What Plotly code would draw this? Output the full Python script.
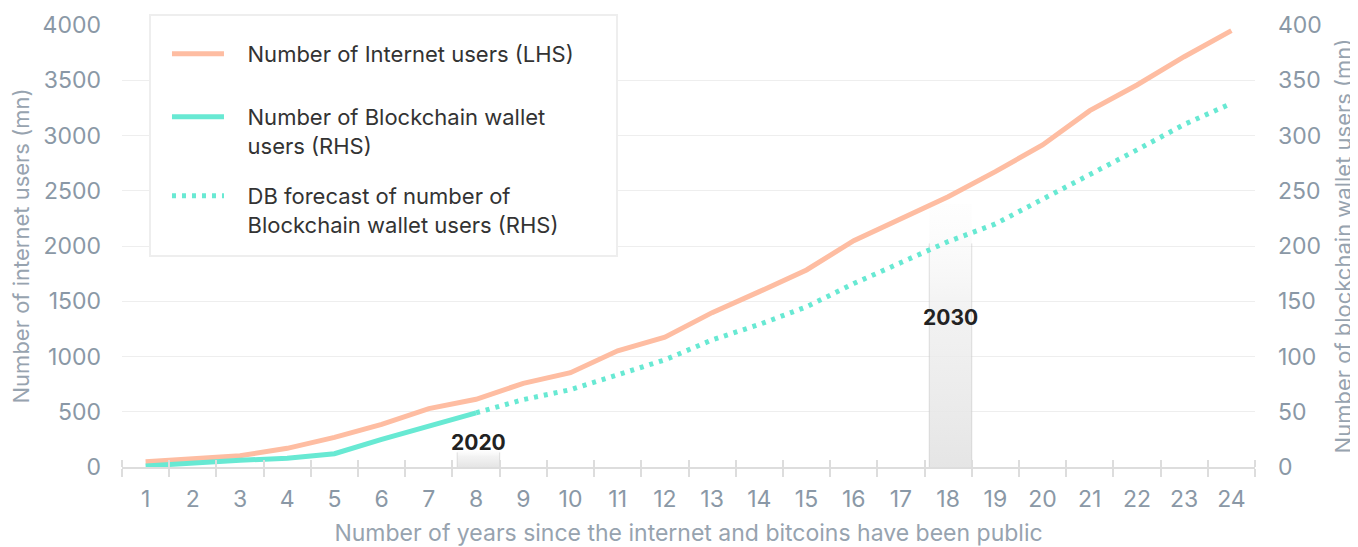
import plotly.graph_objects as go

years = list(range(1, 25))
internet_users = [48, 79, 102, 169, 268, 386, 528, 613, 757, 853, 1052, 1174,
                  1397, 1587, 1783, 2048, 2245, 2446, 2673, 2914, 3225, 3457, 3713, 3949]
wallet_years = list(range(1, 9))
wallet_users = [1, 4, 6, 8, 12, 25, 37, 49]
forecast_years = list(range(8, 25))
forecast_users = [49, 61, 70, 84, 97, 115, 129, 145, 166, 185, 204, 220, 242, 264, 287, 310, 329]

highlight_labels = ["2020", "2030"]
highlight_x0 = [7.6, 17.6]
highlight_x1 = [8.5, 18.5]
highlight_top = [155, 2380]
label_y = [226, 1357]

ORANGE = "#FEBDA2"
TEAL = "#68E9D3"
TICK = "#8A98A6"
TITLE = "#97A3AF"
FONT = "Inter"
NB = "&nbsp;&nbsp;&nbsp;"

fig = go.Figure()

for x0, x1, top in zip(highlight_x0, highlight_x1, highlight_top):
    fig.add_trace(go.Scatter(
        x=[x0, x1, x1, x0, x0], y=[0, 0, top, top, 0],
        fill="toself", mode="lines", line=dict(width=0),
        fillgradient=dict(type="vertical",
                          colorscale=[[0, "rgba(228,228,228,0.95)"], [0.6, "rgba(238,238,238,0.75)"],
                                      [1, "rgba(248,248,248,0.15)"]]),
        showlegend=False, hoverinfo="skip"))
    fig.add_trace(go.Scatter(
        x=[x0, x0, None, x1, x1], y=[0, top * 0.85, None, 0, top * 0.85],
        mode="lines", line=dict(width=1, color="rgba(185,185,185,0.45)"),
        showlegend=False, hoverinfo="skip"))

fig.add_trace(go.Scatter(
    x=years, y=internet_users, mode="lines", name=NB + "Number of Internet users (LHS)",
    line=dict(color=ORANGE, width=5), legend="legend"))
fig.add_trace(go.Scatter(
    x=wallet_years, y=wallet_users, mode="lines", yaxis="y2",
    name=NB + "Number of Blockchain wallet<br>" + NB + "users (RHS)",
    line=dict(color=TEAL, width=5), legend="legend2"))
fig.add_trace(go.Scatter(
    x=forecast_years, y=forecast_users, mode="lines", yaxis="y2",
    name=NB + "DB forecast of number of<br>" + NB + "Blockchain wallet users (RHS)",
    line=dict(color=TEAL, width=5, dash="4px,6px"), legend="legend3"))
# helper trace so the overlaid inner-tick axis is drawn
fig.add_trace(go.Scatter(x=[years[0]], y=[None], xaxis="x2", showlegend=False, hoverinfo="skip"))

for lab, x0, x1, ly in zip(highlight_labels, highlight_x0, highlight_x1, label_y):
    fig.add_annotation(x=(x0 + x1) / 2, y=ly, text="<b>" + lab + "</b>", showarrow=False,
                       font=dict(family=FONT, size=21, color="#222222"))

# legend frame
fig.add_shape(type="rect", xref="paper", yref="paper", x0=0.0247, x1=0.4369, y0=0.4774, y1=1.0226,
              fillcolor="white", line=dict(color="#EEEEEE", width=2), layer="above")

leg_common = dict(xanchor="left", yanchor="top", bgcolor="rgba(0,0,0,0)", borderwidth=0,
                  font=dict(family=FONT, size=22, color="#333333"), valign="top", itemwidth=52)

fig.update_layout(
    width=1350, height=539,
    margin=dict(l=114, r=103, t=17, b=80),
    paper_bgcolor="white", plot_bgcolor="white",
    font=dict(family=FONT, size=22, color=TICK),
    xaxis=dict(range=[0.5, 24.5], tickmode="array", tickvals=years, ticktext=[str(y) for y in years],
               ticks="", showgrid=False, zeroline=False, automargin=False,
               showline=True, linecolor="#DDDDDD", linewidth=2,
               minor=dict(ticks="outside", tickmode="linear", tick0=0.5, dtick=1, ticklen=8,
                          tickwidth=2, tickcolor="#DDDDDD", showgrid=False),
               ticklabelstandoff=10,
               tickfont=dict(family=FONT, size=23, color=TICK),
               title=dict(text="Number of years since the internet and bitcoins have been public",
                          font=dict(family=FONT, size=23, color=TITLE), standoff=19)),
    xaxis2=dict(range=[0.5, 24.5], overlaying="x", anchor="y", side="bottom", automargin=False,
                showticklabels=False, ticks="", showgrid=False, zeroline=False, showline=False,
                tickmode="array", tickvals=[],
                minor=dict(ticks="inside", tickmode="linear", tick0=0.5, dtick=1, ticklen=7,
                           tickwidth=2, tickcolor="#DDDDDD", showgrid=False)),
    yaxis=dict(range=[0, 4000], dtick=500, showgrid=True, gridcolor="#EEEEEE", gridwidth=1,
               zeroline=False, ticks="", ticklabelstandoff=20, automargin=False,
               tickfont=dict(family=FONT, size=23, color=TICK),
               title=dict(text="Number of internet users (mn)",
                          font=dict(family=FONT, size=22, color=TITLE), standoff=10)),
    yaxis2=dict(range=[0, 400], dtick=50, overlaying="y", side="right", showgrid=False,
                zeroline=False, ticks="", ticklabelstandoff=22, automargin=False,
                tickfont=dict(family=FONT, size=23, color=TICK),
                title=dict(text="Number of blockchain wallet users (mn)",
                           font=dict(family=FONT, size=22, color=TITLE), standoff=14)),
    legend=dict(x=0.0397, y=0.982, **leg_common),
    legend2=dict(x=0.0397, y=0.8394, **leg_common),
    legend3=dict(x=0.0397, y=0.6606, **leg_common),
    showlegend=True,
)

fig.write_html("out.html")
